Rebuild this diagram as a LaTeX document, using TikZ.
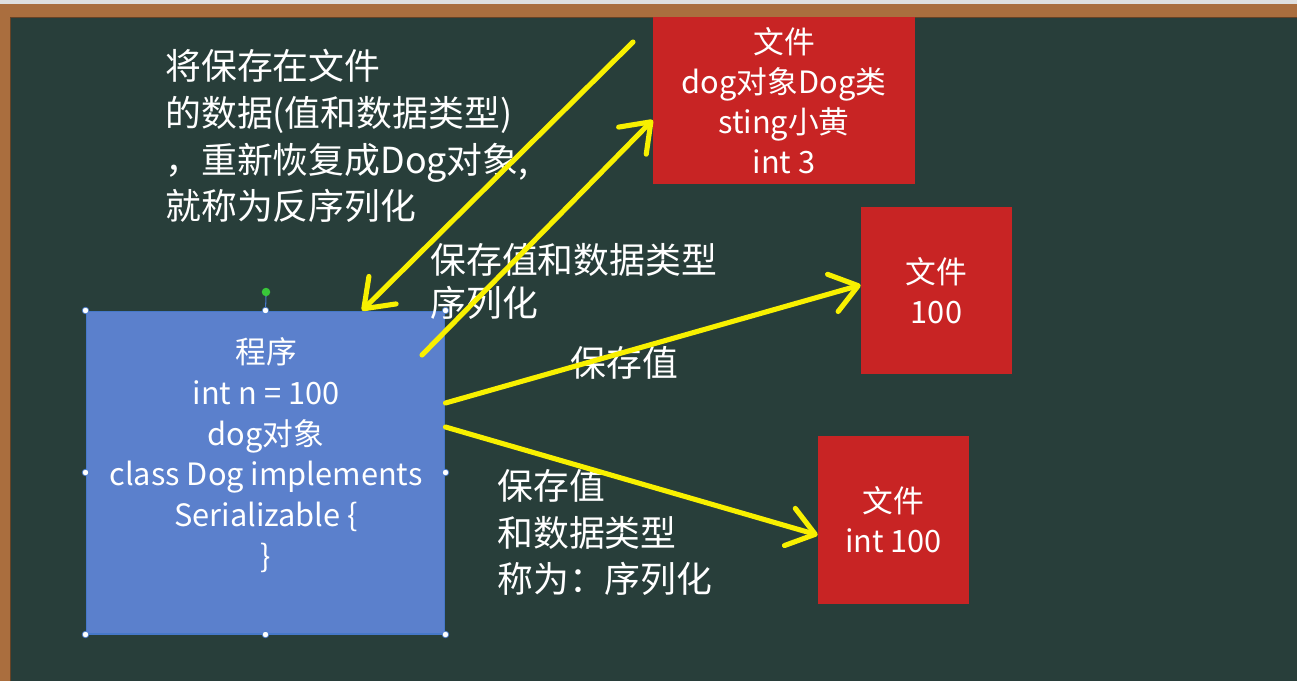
\documentclass[tikz,border=0pt]{standalone}
\usepackage{fontspec}
\setmainfont{Noto Sans CJK SC}
\usetikzlibrary{arrows.meta}

\definecolor{board}{RGB}{40,62,58}
\definecolor{woodframe}{RGB}{170,110,62}
\definecolor{progblue}{RGB}{91,128,204}
\definecolor{handleblue}{RGB}{70,120,200}
\definecolor{filered}{RGB}{200,36,36}
\definecolor{chalkyellow}{RGB}{248,240,0}

\begin{document}
\begin{tikzpicture}[x=0.02cm,y=-0.02cm,
  filebox/.style={fill=filered,text=white,align=center,inner sep=0pt,
    font=\fontsize{17.5}{22.7}\selectfont},
  progbox/.style={fill=progblue,draw=handleblue,line width=0.6pt,inner sep=0pt,
    minimum width=7.18cm,minimum height=6.46cm},
  boxtext/.style={text=white,align=center,inner sep=0pt,
    font=\fontsize{17.5}{23.2}\selectfont},
  note/.style={text=white,align=left,inner sep=0pt,anchor=west,
    font=\fontsize{20.4}{26.6}\selectfont},
  handle/.style={circle,fill=white,draw=handleblue,line width=0.4pt,
    inner sep=0pt,minimum size=0.13cm},
  arr/.style={draw=chalkyellow,line width=2.9pt,line cap=round,
    -{Straight Barb[length=15pt,width=22pt,round]}}
]

% blackboard
\fill[board] (0,0) rectangle (1297,681);
\useasboundingbox (0,0) rectangle (1297,681);
\fill[gray!25] (0,0) rectangle (1297,4);
\fill[woodframe] (0,4) rectangle (1297,17);
\fill[woodframe] (0,4) rectangle (10,681);
\draw[woodframe!60!black,line width=0.5pt] (10,681) -- (10,17) -- (1297,17);

% program box
\node[progbox] (prog) at (265.5,472.5) {};
\node[boxtext] (progtext) at (266,455) {程序\\int n = 100\\dog对象\\class Dog implements\\Serializable \{\\\}};

% selection handles
\draw[handleblue,line width=0.6pt] (prog.north) -- (266,296);
\node[circle,fill=green!55!gray,inner sep=0pt,minimum size=0.17cm] (rot) at (266,292) {};
\foreach \a in {north west,north,north east,west,east,south west,south,south east}
  \node[handle] at (prog.\a) {};

% files
\node[filebox,minimum width=5.24cm,minimum height=3.34cm] (file1) at (784,100.5) {文件\\dog对象Dog类\\sting小黄\\int 3};
\node[filebox,minimum width=3.02cm,minimum height=3.34cm] (file2) at (936.5,290.5) {文件\\100};
\node[filebox,minimum width=3.02cm,minimum height=3.36cm] (file3) at (893.5,520) {文件\\int 100};

% texts
\node[note] (deser) at (165,136) {将保存在文件\\的数据(值和数据类型)\\，重新恢复成Dog对象,\\就称为反序列化};
\node[note,font=\fontsize{20.4}{24.4}\selectfont] (ser1) at (430,281.5) {保存值和数据类型\\序列化};
\node[note] (val) at (570,363) {保存值};
\node[note] (ser2) at (497,532.5) {保存值\\和数据类型\\称为：序列化};

% arrows
\coordinate (back) at (633,42);
\coordinate (out) at (422,355);
\draw[arr] (back) -- (362,0 |- prog.north);
\draw[arr] (out) -- (file1.west |- 0,120);
\draw[arr] (prog.east |- 0,403) -- (file2.west |- 0,285);
\draw[arr] (prog.east |- 0,427) -- (file3.west |- 0,535);

\end{tikzpicture}
\end{document}
